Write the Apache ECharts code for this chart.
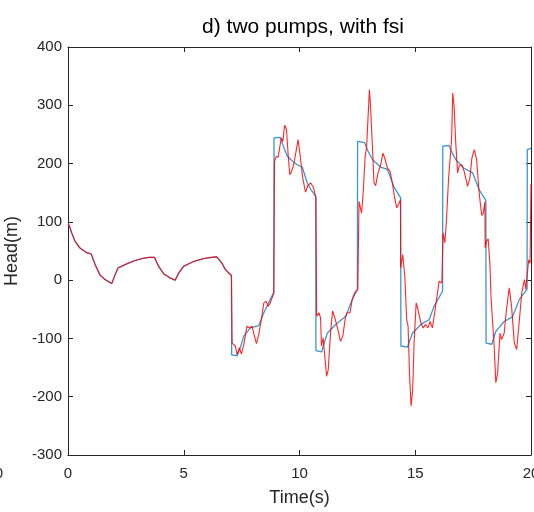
<!DOCTYPE html>
<html>
<head>
<meta charset="utf-8">
<script src="https://cdn.jsdelivr.net/npm/echarts@6/dist/echarts.min.js"></script>
<style>html,body{margin:0;padding:0;background:#fff;}#c{width:534px;height:512px;}</style>
</head>
<body>
<div id="c"></div>
<script>
const xTicks = [0, 5, 10, 15, 20];
const yTicks = [-300, -200, -100, 0, 100, 200, 300, 400];

const blueTime = [0, 0.06, 0.16, 0.3, 0.52, 0.81, 1.0, 1.17, 1.38, 1.6, 1.89, 2.03, 2.16, 2.54, 2.85, 3.19, 3.5, 3.74, 3.91, 4.13, 4.4, 4.63, 4.78, 5.0, 5.43, 5.86, 6.2, 6.43, 6.65, 6.8, 7.06,
  7.07, 7.3, 7.45, 7.59, 7.88, 8.24, 8.46, 8.74, 8.89,
  8.9, 9.17, 9.3, 9.47, 9.7, 9.9, 10.12, 10.33, 10.5, 10.7,
  10.71, 10.96, 11.05, 11.2, 11.56, 12.0, 12.28, 12.5,
  12.51, 12.81, 12.95, 13.15, 13.5, 13.8, 14.08, 14.37,
  14.38, 14.66, 14.75, 14.88, 15.24, 15.6, 15.81, 16.18,
  16.19, 16.46, 16.6, 16.75, 17.1, 17.48, 17.76, 18.05,
  18.06, 18.31, 18.4, 18.48, 18.84, 19.2, 19.5, 19.83,
  19.84, 20];
const blueHead = [97, 93, 81, 67, 55, 47, 45, 27, 9, 1, -6, 9, 21, 28, 33, 37, 39, 39, 24, 11, 4, 0, 12, 24, 32, 37, 39, 40, 29, 18, 8,
  -128, -130, -115, -96, -82, -78, -56, -33, -21,
  244, 245, 230, 213, 204, 198, 194, 167, 155, 144,
  -121, -123, -110, -91, -76, -62, -33, -16,
  238, 236, 222, 207, 194, 190, 160, 141,
  -113, -115, -105, -91, -76, -68, -45, -19,
  230, 231, 218, 207, 192, 184, 155, 137,
  -108, -110, -98, -88, -71, -63, -33, -16,
  224, 226];

const redTime = [0, 0.06, 0.16, 0.3, 0.52, 0.81, 1.0, 1.17, 1.38, 1.6, 1.89, 2.03, 2.16, 2.54, 2.85, 3.19, 3.5, 3.74, 3.91, 4.13, 4.4, 4.63, 4.78, 5.0, 5.43, 5.86, 6.2, 6.43, 6.65, 6.8, 7.06,
  7.08, 7.09, 7.16, 7.23, 7.3, 7.4, 7.49, 7.59, 7.73, 7.84, 7.95, 8.02, 8.14, 8.24, 8.35, 8.46, 8.56, 8.64, 8.74, 8.89,
  8.92, 8.99, 9.08, 9.15, 9.22, 9.28, 9.36, 9.44, 9.51, 9.58, 9.65, 9.75, 9.83, 9.94, 10.04, 10.14, 10.26, 10.36, 10.48, 10.6, 10.71,
  10.74, 10.84, 10.91, 10.95, 11.02, 11.08, 11.17, 11.24, 11.34, 11.43, 11.53, 11.66, 11.77, 11.87, 11.99, 12.06, 12.18, 12.28, 12.38, 12.52,
  12.57, 12.61, 12.68, 12.76, 12.83, 12.9, 12.97, 13.02, 13.07, 13.15, 13.22, 13.29, 13.39, 13.51, 13.6, 13.68, 13.8, 13.91, 14.01, 14.11, 14.2, 14.3, 14.36,
  14.37, 14.46, 14.55, 14.63, 14.69, 14.75, 14.82, 14.89, 14.95, 15.04, 15.12, 15.24, 15.34, 15.45, 15.55, 15.64, 15.74, 15.84, 15.96, 16.03, 16.15,
  16.2, 16.28, 16.35, 16.44, 16.49, 16.57, 16.62, 16.68, 16.75, 16.83, 16.9, 17.01, 17.11, 17.26, 17.36, 17.45, 17.55, 17.65, 17.76, 17.87, 17.94, 18.01,
  18.02, 18.08, 18.15, 18.23, 18.27, 18.34, 18.41, 18.48, 18.56, 18.66, 18.73, 18.84, 18.94, 19.06, 19.16, 19.28, 19.38, 19.5, 19.6, 19.72, 19.78, 19.83, 19.9, 19.96, 20];
const redHead = [97, 93, 81, 67, 55, 47, 45, 27, 9, 1, -6, 9, 21, 28, 33, 37, 39, 39, 24, 11, 4, 0, 12, 24, 32, 37, 39, 40, 29, 18, 8,
  6, -108, -111, -113, -128, -116, -127, -111, -79, -82, -79, -91, -109, -93, -68, -39, -36, -45, -39, -22,
  204, 212, 211, 229, 244, 238, 266, 258, 215, 181, 186, 198, 195, 241, 210, 175, 151, 162, 167, 159, 141,
  -62, -56, -65, -113, -99, -102, -165, -154, -91, -53, -65, -85, -105, -96, -62, -56, -56, -33, -22, -16,
  135, 132, 115, 155, 210, 229, 287, 327, 298, 229, 167, 162, 184, 198, 218, 210, 192, 187, 167, 141, 124, 132, 138,
  21, 44, 6, -68, -79, -159, -216, -188, -108, -39, -51, -73, -82, -76, -82, -71, -82, -56, -22, -2, -5,
  81, 64, 104, 175, 172, 241, 321, 298, 235, 184, 196, 198, 187, 161, 175, 210, 224, 207, 150, 111, 115, 135,
  55, 67, 71, 24, -28, -31, -113, -176, -159, -91, -102, -91, -51, -13, -45, -108, -119, -68, -22, 1, -16, 7, 35, 29, 165];

const zip = (a, b) => a.map((t, i) => [t, b[i]]);
const FONT = 'Liberation Sans, Arial, Helvetica, sans-serif';
const AX = '#262626';

const chart = echarts.init(document.getElementById('c'), null, {renderer: 'canvas'});
const baseX = {
  type: 'value', min: xTicks[0], max: xTicks[xTicks.length - 1], interval: 5,
  axisLine: {show: true, onZero: false, lineStyle: {color: AX, width: 1}},
  axisTick: {show: true, inside: true, length: 5, lineStyle: {color: AX}},
  splitLine: {show: false}
};
const baseY = {
  type: 'value', min: yTicks[0], max: yTicks[yTicks.length - 1], interval: 100,
  axisLine: {show: true, onZero: false, lineStyle: {color: AX, width: 1}},
  axisTick: {show: true, inside: true, length: 5, lineStyle: {color: AX}},
  splitLine: {show: false}
};
chart.setOption({
  animation: false,
  backgroundColor: '#fff',
  title: {
    text: 'd) two pumps, with fsi', left: 298, top: 12, textAlign: 'center',
    textStyle: {fontFamily: FONT, fontSize: 21, fontWeight: 'normal', color: '#000'}
  },
  grid: {left: 68, right: 3, top: 47, bottom: 57, containLabel: false, outerBoundsMode: 'none'},
  xAxis: [
    Object.assign({}, baseX, {
      position: 'bottom',
      axisLabel: {show: true, margin: 11, fontFamily: FONT, fontSize: 15, color: AX, hideOverlap: false},
      name: 'Time(s)', nameLocation: 'middle', nameGap: 34,
      nameTextStyle: {fontFamily: FONT, fontSize: 18, color: AX}
    }),
    Object.assign({}, baseX, {position: 'top', axisLabel: {show: false}})
  ],
  yAxis: [
    Object.assign({}, baseY, {
      position: 'left',
      axisLabel: {show: true, margin: 6, fontFamily: FONT, fontSize: 15, color: AX},
      name: 'Head(m)', nameLocation: 'middle', nameGap: 45, nameRotate: 90,
      nameTextStyle: {fontFamily: FONT, fontSize: 18, color: AX}
    }),
    Object.assign({}, baseY, {position: 'right', axisLabel: {show: false}})
  ],
  graphic: [{
    type: 'text', x: 3, y: 466,
    style: {text: '20', font: '15px ' + FONT, fill: AX, align: 'right', textAlign: 'right'}
  }],
  series: [
    {
      type: 'line', data: zip(blueTime, blueHead), showSymbol: false, symbol: 'none',
      lineStyle: {color: '#3b96d4', width: 1.3}, clip: true, z: 2
    },
    {
      type: 'line', data: zip(redTime, redHead), showSymbol: false, symbol: 'none',
      lineStyle: {color: '#ff0000', width: 1.1, opacity: 0.85}, clip: true, z: 3
    }
  ]
});
</script>
</body>
</html>
